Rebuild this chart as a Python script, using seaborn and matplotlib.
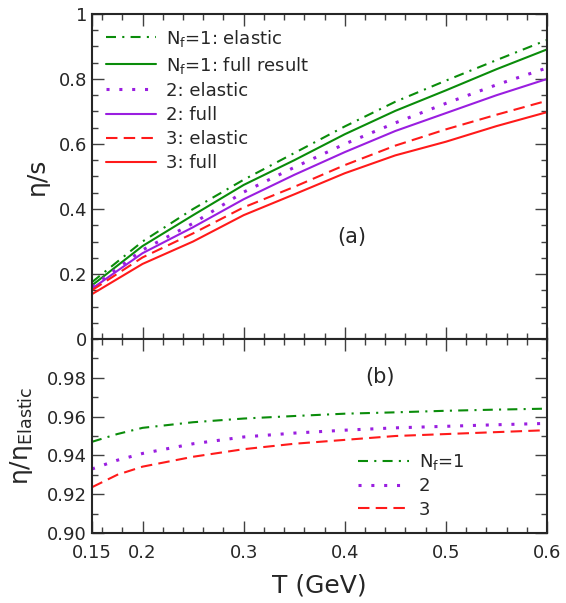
import numpy as np
import pandas as pd
import seaborn as sns
import matplotlib.pyplot as plt
from matplotlib.ticker import FixedLocator, MultipleLocator

# --- Data ---
T = [0.15, 0.2, 0.25, 0.3, 0.35, 0.4, 0.45, 0.5, 0.55, 0.6]
nf1_elastic = [0.175, 0.300, 0.400, 0.490, 0.572, 0.654, 0.730, 0.795, 0.858, 0.920]
nf1_full = [0.165, 0.286, 0.381, 0.474, 0.550, 0.630, 0.702, 0.765, 0.830, 0.891]
nf2_elastic = [0.160, 0.274, 0.356, 0.452, 0.528, 0.600, 0.665, 0.725, 0.782, 0.834]
nf2_full = [0.155, 0.264, 0.344, 0.430, 0.505, 0.575, 0.640, 0.695, 0.750, 0.800]
nf3_elastic = [0.150, 0.251, 0.325, 0.405, 0.468, 0.535, 0.595, 0.645, 0.690, 0.733]
nf3_full = [0.138, 0.231, 0.300, 0.381, 0.445, 0.510, 0.565, 0.607, 0.655, 0.698]

T_ratio = [0.15, 0.175, 0.2, 0.25, 0.3, 0.35, 0.4, 0.45, 0.5, 0.55, 0.6]
ratio_nf1 = [0.947, 0.951, 0.9542, 0.9571, 0.959, 0.9603, 0.9615, 0.9622, 0.963, 0.9636, 0.9641]
ratio_nf2 = [0.933, 0.9375, 0.941, 0.946, 0.9495, 0.9515, 0.953, 0.9542, 0.955, 0.9558, 0.9565]
ratio_nf3 = [0.9236, 0.930, 0.9342, 0.9393, 0.9432, 0.946, 0.948, 0.950, 0.951, 0.952, 0.953]

green, purple, red = "#0a8c0a", "#9a1ee0", "#ff1a1a"
dashdot = (0, (4.8, 3, 1, 3))
dotted = (0, (1, 3.2))
dashed = (0, (5.5, 3))

sns.set_style("ticks")
plt.rcParams["font.family"] = ["DejaVu Sans"]
plt.rcParams["mathtext.default"] = "regular"

fig = plt.figure(figsize=(5.66, 6.03), dpi=100)
ax1 = fig.add_axes((0.1625, 0.4378, 0.8039, 0.5390))
ax2 = fig.add_axes((0.1625, 0.1161, 0.8039, 0.3217), sharex=ax1)

top_series = [
    (nf1_elastic, green, dashdot, 1.5, "N$_f$=1: elastic"),
    (nf1_full, green, "-", 1.5, "N$_f$=1: full result"),
    (nf2_elastic, purple, dotted, 2.2, "2: elastic"),
    (nf2_full, purple, "-", 1.5, "2: full"),
    (nf3_elastic, red, dashed, 1.5, "3: elastic"),
    (nf3_full, red, "-", 1.5, "3: full"),
]
for vals, c, ls, lw, lab in top_series:
    sns.lineplot(x=T, y=vals, ax=ax1, color=c, linestyle=ls, linewidth=lw, label=lab)

bottom_series = [
    (ratio_nf1, green, dashdot, 1.5, "N$_f$=1"),
    (ratio_nf2, purple, dotted, 2.2, "2"),
    (ratio_nf3, red, dashed, 1.5, "3"),
]
for vals, c, ls, lw, lab in bottom_series:
    sns.lineplot(x=T_ratio, y=vals, ax=ax2, color=c, linestyle=ls, linewidth=lw, label=lab)

# --- Axes styling ---
for ax in (ax1, ax2):
    ax.set_xlim(0.15, 0.6)
    for s in ax.spines.values():
        s.set_linewidth(1.5)
    ax.tick_params(which="both", direction="in", top=True, right=True,
                   labelsize=13, width=1, color="0.25")
    ax.tick_params(which="major", length=8.5)
    ax.tick_params(which="minor", length=4.2)
    ax.tick_params(axis="x", pad=8)
    ax.xaxis.set_major_locator(FixedLocator([0.15, 0.2, 0.3, 0.4, 0.5, 0.6]))
    ax.xaxis.set_minor_locator(FixedLocator(np.arange(0.16, 0.599, 0.02)))

ax1.set_ylim(0, 1)
ax1.set_yticks([0, 0.2, 0.4, 0.6, 0.8, 1.0])
ax1.set_yticklabels(["0", "0.2", "0.4", "0.6", "0.8", "1"])
ax1.yaxis.set_minor_locator(MultipleLocator(0.05))
ax1.tick_params(labelbottom=False)
ax1.set_ylabel("η/s", fontsize=18)
ax1.yaxis.set_label_coords(-0.095, 0.5)
ax1.set_xlabel("")
ax1.text(0.57, 0.314, "(a)", transform=ax1.transAxes, fontsize=15,
         ha="center", va="center")
ax1.legend(loc="upper left", frameon=False, fontsize=13, handlelength=2.8,
           handletextpad=0.55, labelspacing=0.34, borderaxespad=0.35)

ax2.set_ylim(0.90, 1.0)
ax2.set_yticks([0.90, 0.92, 0.94, 0.96, 0.98])
ax2.set_yticklabels(["0.90", "0.92", "0.94", "0.96", "0.98"])
ax2.yaxis.set_minor_locator(MultipleLocator(0.01))
ax2.set_xticklabels(["0.15", "0.2", "0.3", "0.4", "0.5", "0.6"])
ax2.set_ylabel("η/η$_{Elastic}$", fontsize=18)
ax2.yaxis.set_label_coords(-0.125, 0.5)
ax2.set_xlabel("T (GeV)", fontsize=18, labelpad=8)
ax2.text(0.633, 0.804, "(b)", transform=ax2.transAxes, fontsize=15,
         ha="center", va="center")
ax2.legend(loc="lower left", bbox_to_anchor=(0.55, -0.01), frameon=False,
           fontsize=13, handlelength=2.8, handletextpad=0.55, labelspacing=0.3)

fig.savefig("out.png", dpi=100)
